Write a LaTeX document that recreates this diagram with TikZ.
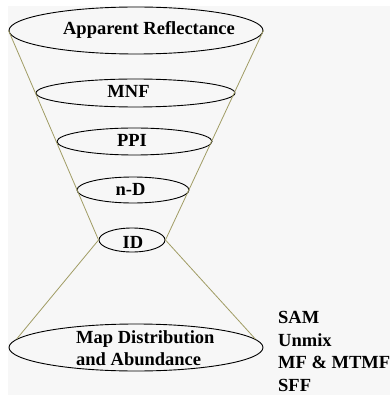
\documentclass[tikz,border=0pt]{standalone}
\usepackage{fontspec}
\setmainfont{Liberation Serif}
\usetikzlibrary{shapes.geometric}
\definecolor{funnelline}{RGB}{160,156,100}
\definecolor{bggray}{RGB}{247,247,247}

\begin{document}
\begin{tikzpicture}[x=1pt,y=-1pt,font=\bfseries\fontsize{18.5}{22.7}\selectfont]
\tikzstyle{layer}=[ellipse,draw=black,line width=0.9pt,inner sep=0pt]
\tikzstyle{funnel}=[draw=funnelline,line width=0.8pt]
\tikzstyle{lbl}=[anchor=base,inner sep=0pt]

\fill[bggray] (8,6) rectangle (390,395);
\useasboundingbox (0,0) rectangle (390,395);

\node[layer,minimum width=254pt,minimum height=47pt] (refl) at (136,30.5) {};
\node[layer,minimum width=199pt,minimum height=28pt] (mnf) at (135.5,93) {};
\node[layer,minimum width=155pt,minimum height=27pt] (ppi) at (134.5,141.5) {};
\node[layer,minimum width=112pt,minimum height=26pt] (nd) at (133,190) {};
\node[layer,minimum width=66pt,minimum height=24pt] (id) at (132,240) {};
\node[layer,minimum width=254pt,minimum height=47pt] (map) at (136,347.5) {};

% funnel sides
\draw[funnel] (refl.west) -- (id.west);
\draw[funnel] (refl.east) -- (id.east);
\draw[funnel] (id.west) -- (map.176);
\draw[funnel] (id.east) -- (map.4);

\node[lbl] (refltxt) at (149,35) {Apparent Reflectance};
\node[lbl] (mnftxt) at (128.5,98) {MNF};
\node[lbl] (ppitxt) at (132,147) {PPI};
\node[lbl] (ndtxt) at (130.5,195) {n-D};
\node[lbl] (idtxt) at (133,248) {ID};
\node[anchor=north west,align=left,inner sep=0pt] (maptxt) at (76,330) {Map Distribution\\and Abundance};

\node[anchor=north west,align=left,inner sep=0pt] (methods) at (278,311) {SAM\\Unmix\\MF \& MTMF\\SFF};
\end{tikzpicture}
\end{document}
